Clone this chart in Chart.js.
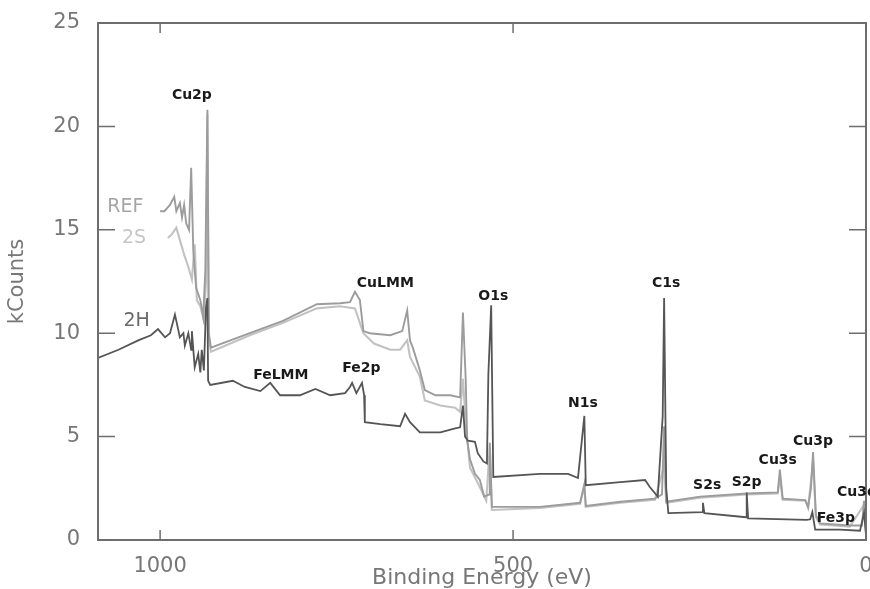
<!DOCTYPE html>
<html>
<head>
<meta charset="utf-8">
<script src="https://cdn.jsdelivr.net/npm/chart.js@4/dist/chart.umd.min.js"></script>
<style>
  html, body { margin: 0; padding: 0; background: #fff; overflow: hidden; }
  #wrap { position: relative; width: 876px; height: 589px; }
</style>
</head>
<body>
<div id="wrap"><canvas id="xpsChart"></canvas></div>
<script>
// binding energy (eV) / kCounts
const energy2H = [1088, 1059, 1031, 1013, 1003, 993, 986, 979, 972, 967, 965, 960, 956, 955, 951, 946, 943, 941, 938, 935, 933, 932, 929,
  897, 880, 858, 844, 830, 802, 780, 759, 738, 731, 728, 722, 714, 711, 710, 688, 660, 653, 646, 632, 603, 582, 575, 571, 568, 564,
  554, 550, 542, 537, 535, 531, 528, 462, 422, 408, 399, 397, 348, 313, 306, 295, 288, 286, 283, 280, 232, 231, 229, 170, 169, 167,
  84, 79, 76, 72, 37, 8.5, 2.8, 0];
const counts2H = [8.8, 9.2, 9.65, 9.9, 10.2, 9.8, 10.0, 10.9, 9.8, 10.0, 9.4, 10.0, 9.2, 10.1, 8.35, 9.0, 8.1, 9.2, 8.2, 11.25, 11.7, 7.7, 7.5,
  7.7, 7.4, 7.2, 7.6, 7.0, 7.0, 7.3, 7.0, 7.1, 7.4, 7.6, 7.1, 7.6, 7.0, 5.7, 5.6, 5.5, 6.1, 5.7, 5.2, 5.2, 5.4, 5.45, 6.5, 5.0, 4.8,
  4.75, 4.2, 3.8, 3.7, 8.0, 11.35, 3.05, 3.2, 3.2, 3.0, 6.0, 2.65, 2.8, 2.9, 2.55, 2.1, 6.0, 11.7, 2.5, 1.3, 1.35, 1.8, 1.3, 1.1, 2.3, 1.05,
  0.97, 1.0, 1.35, 0.5, 0.5, 0.45, 1.3, 0.3];

const energyRef = [1000, 994, 986, 980, 977, 972, 969, 966, 963, 959, 956, 953, 949, 943, 939, 936, 933, 931, 928,
  873, 826, 778, 745, 731, 724, 717, 712, 703, 674, 657, 650, 646, 642, 632, 625, 610, 589, 575, 571, 567, 565, 561, 554, 547,
  541, 534, 533, 530, 462, 405, 399, 397, 348, 299, 289, 286, 283, 235, 169, 125, 122, 118, 86, 82, 78, 75, 71, 65, 23, 5.7, 2.8, 0];
const countsRef = [15.9, 15.9, 16.2, 16.6, 15.9, 16.3, 15.6, 16.2, 15.3, 15.0, 18.0, 14.0, 12.2, 11.6, 10.8, 13.0, 20.8, 10.0, 9.3,
  10.0, 10.6, 11.4, 11.45, 11.5, 12.0, 11.6, 10.1, 10.0, 9.9, 10.1, 11.1, 9.65, 9.3, 8.2, 7.25, 7.0, 7.0, 6.9, 11.0, 7.7, 4.8, 3.9, 3.2, 2.9,
  2.1, 2.2, 4.7, 1.6, 1.6, 1.8, 2.7, 1.65, 1.85, 2.0, 2.2, 5.5, 1.85, 2.1, 2.25, 2.3, 3.4, 2.0, 1.93, 1.6, 2.5, 4.25, 1.2, 0.8, 0.7, 0.7, 1.9, 0.3];

const energy2S = [989, 983, 977, 972, 965, 960, 955, 951, 948, 943, 938, 935, 933, 931, 928,
  873, 826, 778, 745, 724, 712, 697, 674, 660, 650, 646, 632, 625, 603, 582, 575, 571, 567, 561, 547, 538, 533, 530,
  462, 405, 399, 397, 348, 299, 286, 283, 235, 169, 125, 122, 118, 86, 82, 75, 71, 65, 23, 2.8, 0];
const counts2S = [14.6, 14.8, 15.1, 14.5, 13.7, 13.2, 12.6, 14.3, 11.6, 11.3, 10.6, 12.5, 20.6, 9.8, 9.1,
  9.9, 10.5, 11.2, 11.3, 11.2, 10.0, 9.5, 9.2, 9.2, 9.65, 8.85, 7.9, 6.75, 6.5, 6.4, 6.2, 7.8, 5.65, 3.5, 2.55, 1.9, 4.5, 1.45,
  1.55, 1.75, 2.6, 1.6, 1.8, 1.95, 3.6, 1.8, 2.05, 2.2, 2.25, 3.0, 1.95, 1.9, 1.55, 3.8, 1.1, 0.75, 0.65, 1.7, 0.3];

const xTicks = [0, 500, 1000];
const yTicks = [0, 5, 10, 15, 20, 25];

// peak labels: text, energy, kCounts
const peakNames = ["Cu2p", "FeLMM", "Fe2p", "CuLMM", "O1s", "N1s", "C1s", "S2s", "S2p", "Cu3s", "Cu3p", "Fe3p"];
const peakEnergy = [955, 829, 715, 681, 528, 401, 283, 225, 169, 125, 75, 42.5];
const peakLevel = [21.5, 7.97, 8.3, 12.4, 11.8, 6.6, 12.4, 2.66, 2.8, 3.86, 4.78, 1.06];

const seriesNames = ["REF", "2S", "2H"];
const seriesLabelEnergy = [1075, 1054, 1052];
const seriesLabelLevel = [16.1, 14.6, 10.6];

const toPoints = (xs, ys) => xs.map((e, i) => ({ x: e, y: ys[i] }));

const frameColor = "#6e6e6e";

const framePlugin = {
  id: "frame",
  afterDraw(chart) {
    const { ctx, chartArea: a, scales } = chart;
    const x = scales.x, y = scales.y;
    ctx.save();
    ctx.strokeStyle = frameColor;
    ctx.lineWidth = 2;
    ctx.strokeRect(a.left, a.top, a.right - a.left, a.bottom - a.top);

    ctx.lineWidth = 1.5;
    ctx.beginPath();
    yTicks.forEach((v) => {
      const py = y.getPixelForValue(v);
      ctx.moveTo(a.left, py); ctx.lineTo(a.left + 17, py);
      ctx.moveTo(a.right, py); ctx.lineTo(a.right - 17, py);
    });
    xTicks.forEach((v) => {
      const px = x.getPixelForValue(v);
      ctx.moveTo(px, a.bottom); ctx.lineTo(px, a.bottom - 10);
      ctx.moveTo(px, a.top); ctx.lineTo(px, a.top + 10);
    });
    ctx.stroke();

    ctx.textBaseline = "middle";
    ctx.textAlign = "center";
    ctx.fillStyle = "#1a1a1a";
    ctx.font = "bold 14px 'DejaVu Sans'";
    peakNames.forEach((name, i) => {
      ctx.fillText(name, x.getPixelForValue(peakEnergy[i]), y.getPixelForValue(peakLevel[i]));
    });
    // Cu3d sits at the right edge and gets cut off
    ctx.textAlign = "left";
    ctx.fillText("Cu3d", x.getPixelForValue(41), y.getPixelForValue(2.3));

    const seriesTextColors = ["#a6a6a6", "#c6c6c6", "#6a6a6a"];
    ctx.font = "19px 'DejaVu Sans'";
    seriesNames.forEach((name, i) => {
      ctx.fillStyle = seriesTextColors[i];
      ctx.fillText(name, x.getPixelForValue(seriesLabelEnergy[i]), y.getPixelForValue(seriesLabelLevel[i]));
    });
    ctx.restore();
  },
};

const ctx = document.getElementById("xpsChart").getContext("2d");
new Chart(ctx, {
  type: "line",
  data: {
    datasets: [
      { label: "2H", data: toPoints(energy2H, counts2H), borderColor: "#555555", borderWidth: 1.8 },
      { label: "REF", data: toPoints(energyRef, countsRef), borderColor: "#9c9c9c", borderWidth: 1.9 },
      { label: "2S", data: toPoints(energy2S, counts2S), borderColor: "#c2c2c2", borderWidth: 2.1 },
    ],
  },
  options: {
    responsive: true,
    maintainAspectRatio: false,
    animation: false,
    layout: { padding: { top: 23, right: 10, left: 0, bottom: 0 } },
    elements: { point: { radius: 0 }, line: { tension: 0, fill: false } },
    plugins: { legend: { display: false }, tooltip: { enabled: false } },
    scales: {
      x: {
        type: "linear",
        reverse: true,
        min: 0,
        max: 1088,
        grid: { display: false },
        border: { display: false },
        afterBuildTicks: (scale) => { scale.ticks = xTicks.map((v) => ({ value: v })); },
        afterFit: (scale) => { scale.height = 49; },
        ticks: {
          color: "#777",
          font: { family: "DejaVu Sans", size: 21 },
          padding: 6,
          maxRotation: 0,
          callback: (v) => String(v),
        },
        title: {
          display: true,
          text: "Binding Energy (eV)",
          color: "#777",
          font: { family: "DejaVu Sans", size: 22, lineHeight: 1 },
          padding: { top: 0, bottom: 0 },
        },
      },
      y: {
        min: 0,
        max: 25,
        grid: { display: false },
        border: { display: false },
        afterBuildTicks: (scale) => { scale.ticks = yTicks.map((v) => ({ value: v })); },
        afterFit: (scale) => { scale.width = 98; },
        ticks: { color: "#777", font: { family: "DejaVu Sans", size: 21 }, padding: 10 },
        title: {
          display: true,
          text: "kCounts",
          color: "#777",
          font: { family: "DejaVu Sans", size: 21, lineHeight: 1 },
          padding: { top: 7, bottom: 0 },
        },
      },
    },
  },
  plugins: [framePlugin],
});
</script>
</body>
</html>
